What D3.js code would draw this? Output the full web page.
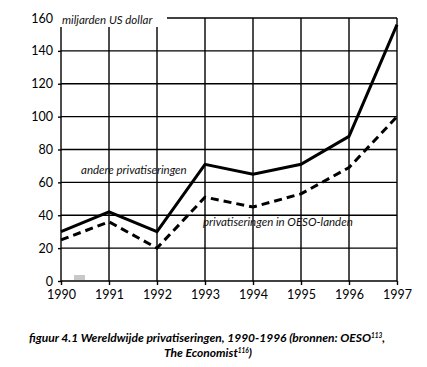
<!DOCTYPE html>
<html><head><meta charset="utf-8">
<script src="https://cdn.jsdelivr.net/npm/d3@7"></script>
<style>
html,body{margin:0;padding:0;background:#fff;}
svg{display:block;font-family:Lato,"Open Sans",sans-serif;}
</style></head>
<body>
<script>
const years = [1990,1991,1992,1993,1994,1995,1996,1997];
const andere = [30,42,30,71,65,71,88,156];
const oeso = [25,36,20,51,45,53,69,100];
const yTicks = [0,20,40,60,80,100,120,140,160];
const unitLabel = "miljarden US dollar";
const seriesLabels = ["andere privatiseringen","privatiseringen in OESO-landen"];

const W=427,H=367;
const svg=d3.select("body").append("svg").attr("width",W).attr("height",H);
const x=d3.scalePoint().domain(years).range([61,397]);
const y=d3.scaleLinear().domain([0,160]).range([281,18]);

// grid
const g=svg.append("g").attr("stroke","#000").attr("stroke-width",1.4);
g.selectAll("line.h").data(yTicks).join("line").attr("class","h")
 .attr("x1",x(1990)).attr("x2",x(1997)).attr("y1",d=>y(d)).attr("y2",d=>y(d));
g.selectAll("line.v").data(years).join("line").attr("class","v")
 .attr("x1",d=>x(d)).attr("x2",d=>x(d)).attr("y1",y(160)).attr("y2",y(0));

// axes
const ya=svg.append("g").attr("transform",`translate(${x(1990)},0)`)
 .call(d3.axisLeft(y).tickValues(yTicks).tickSize(3).tickPadding(5));
const xa=svg.append("g").attr("transform",`translate(0,${y(0)})`)
 .call(d3.axisBottom(x).tickSize(4).tickPadding(5).tickFormat(d3.format("d")));
[ya,xa].forEach(a=>{a.select(".domain").remove();
 a.selectAll("line").attr("stroke","#000").attr("stroke-width",1.4);
 a.selectAll("text").attr("font-family","Lato, 'Open Sans', sans-serif").attr("font-size",12.5).attr("fill","#000");});

// unit label with white background
svg.append("rect").attr("x",56).attr("y",6).attr("width",111).attr("height",21).attr("fill","#fff");
svg.append("text").attr("x",62).attr("y",24).attr("font-style","italic").attr("font-size",11.5)
 .attr("fill","#111").text(unitLabel);

// gray mark
svg.append("rect").attr("x",74).attr("y",275).attr("width",11).attr("height",5).attr("fill","#c8c8c8");

// lines
const line=d3.line().x((d,i)=>x(years[i])).y(d=>y(d));
svg.append("path").datum(andere).attr("d",line).attr("fill","none").attr("stroke","#000")
 .attr("stroke-width",3).attr("stroke-linejoin","miter");
svg.append("path").datum(oeso).attr("d",line).attr("fill","none").attr("stroke","#000")
 .attr("stroke-width",3).attr("stroke-dasharray","8,5");

// series labels
svg.append("text").attr("x",81).attr("y",174).attr("font-style","italic").attr("font-size",11.5)
 .attr("fill","#111").text(seriesLabels[0]);
svg.append("text").attr("x",203).attr("y",226).attr("font-style","italic").attr("font-size",11.5)
 .attr("fill","#111").text(seriesLabels[1]);

// caption
const cap=svg.append("g").attr("font-weight","bold").attr("font-style","italic").attr("font-size",12).attr("fill","#000").attr("text-anchor","middle");
const t1=cap.append("text").attr("x",207).attr("y",342);
t1.append("tspan").text("figuur 4.1 Wereldwijde privatiseringen, 1990-1996 (bronnen: OESO");
t1.append("tspan").attr("font-size",6.5).attr("dy",-4).text("113");
t1.append("tspan").attr("dy",4).text(",");
const t2=cap.append("text").attr("x",208).attr("y",357);
t2.append("tspan").text("The Economist");
t2.append("tspan").attr("font-size",6.5).attr("dy",-4).text("116");
t2.append("tspan").attr("dy",4).text(")");
</script>
</body></html>
